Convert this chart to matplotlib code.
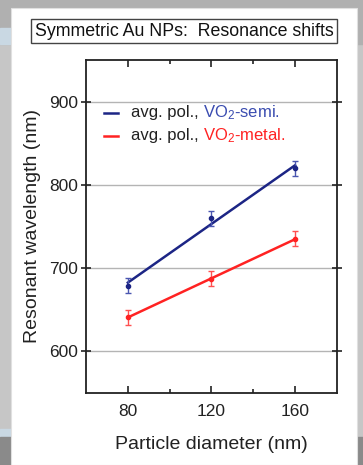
import matplotlib
matplotlib.use("Agg")
import matplotlib.pyplot as plt
from matplotlib.patches import Rectangle

plt.rcParams['font.family'] = ['Liberation Sans', 'DejaVu Sans']
plt.rcParams['mathtext.fontset'] = 'custom'
plt.rcParams['mathtext.rm'] = 'Liberation Sans'
plt.rcParams['mathtext.default'] = 'regular'

# data
diameter = [80, 120, 160]
wl_semi = [679, 760, 820]
err_semi = [9, 9, 9]
wl_metal = [641, 687, 735]
err_metal = [9, 9, 9]
xticks = [80, 120, 160]
yticks = [600, 700, 800, 900]

blue = '#1c2585'
red = '#ff2222'

fig = plt.figure(figsize=(3.63, 4.65), dpi=100, facecolor='#c6c6c6')

# screenshot surroundings
fig.patches.append(Rectangle((0, 0.905), 1, 0.095, transform=fig.transFigure,
                             color='#b0b0b0', zorder=0))
fig.patches.append(Rectangle((0, 0.905), 0.032, 0.035, transform=fig.transFigure,
                             color='#c9d8e3', zorder=0))
fig.patches.append(Rectangle((0, 0.06), 0.032, 0.018, transform=fig.transFigure,
                             color='#c9d8e3', zorder=0))
fig.patches.append(Rectangle((0, 0), 0.032, 0.06, transform=fig.transFigure,
                             color='#8a8a8a', zorder=0))
fig.patches.append(Rectangle((0.984, 0), 0.016, 0.06, transform=fig.transFigure,
                             color='#8a8a8a', zorder=0))
fig.patches.append(Rectangle((0.030, 0), 0.954, 0.983, transform=fig.transFigure,
                             facecolor='white', edgecolor='#e0e0e0', lw=0.8, zorder=1))

ax = fig.add_axes([0.237, 0.155, 0.691, 0.716])
ax.set_zorder(2)

# linear fits through the points
def fit(x, y):
    n = len(x)
    mx = sum(x) / n
    my = sum(y) / n
    s = sum((a - mx) * (b - my) for a, b in zip(x, y)) / sum((a - mx) ** 2 for a in x)
    return [my + s * (a - mx) for a in x]

ax.plot(diameter, fit(diameter, wl_semi), color=blue, lw=1.8, zorder=3)
ax.plot(diameter, fit(diameter, wl_metal), color=red, lw=1.8, zorder=3)
ax.errorbar(diameter, wl_semi, yerr=err_semi, fmt='o', ms=3, color=blue,
            ecolor='#4a56b0', elinewidth=1, capsize=2.5, capthick=1, zorder=4)
ax.errorbar(diameter, wl_metal, yerr=err_metal, fmt='o', ms=3, color=red,
            ecolor='#ff5050', elinewidth=1, capsize=2.5, capthick=1, zorder=4)

ax.set_xlim(60, 180)
ax.set_ylim(550, 950)
ax.set_xticks(xticks)
ax.set_xticks([100, 140], minor=True)
ax.set_yticks(yticks)
ax.grid(axis='y', color='#b4b4b4', lw=1)
ax.set_axisbelow(True)
for s in ax.spines.values():
    s.set_linewidth(1.3)
    s.set_color('#222222')
ax.tick_params(axis='x', which='both', direction='in', top=True, width=1.2,
               labelsize=12.5, colors='#222222', pad=8)
ax.tick_params(axis='x', which='major', length=5)
ax.tick_params(axis='x', which='minor', length=3)
ax.tick_params(axis='y', direction='inout', right=True, width=1.2, length=7,
               labelsize=12.5, colors='#222222', pad=2)
ax.set_xlabel('Particle diameter (nm)', fontsize=14, color='#222222', labelpad=12)
ax.set_ylabel('Resonant wavelength (nm)', fontsize=14, color='#222222', labelpad=6)

# two-colour legend
for yy, col, tcol, lab in [(0.841, blue, '#3a4cb0', 'VO$_2$-semi.'),
                           (0.772, red, red, 'VO$_2$-metal.')]:
    ax.plot([0.072, 0.128], [yy, yy], transform=ax.transAxes, color=col, lw=1.8)
    t = ax.text(0.178, yy, 'avg. pol., ', transform=ax.transAxes, fontsize=12,
                color='#222222', va='center')
    ax.annotate(lab, xy=(1, 0.5), xycoords=t, va='center', fontsize=12, color=tcol)

fig.text(0.507, 0.933, 'Symmetric Au NPs:  Resonance shifts', fontsize=12.8,
         ha='center', va='center', color='#111111', zorder=3,
         bbox=dict(boxstyle='square,pad=0.2', facecolor='white',
                   edgecolor='#444444', lw=1))

fig.savefig('out.png', dpi=100, facecolor=fig.get_facecolor())
